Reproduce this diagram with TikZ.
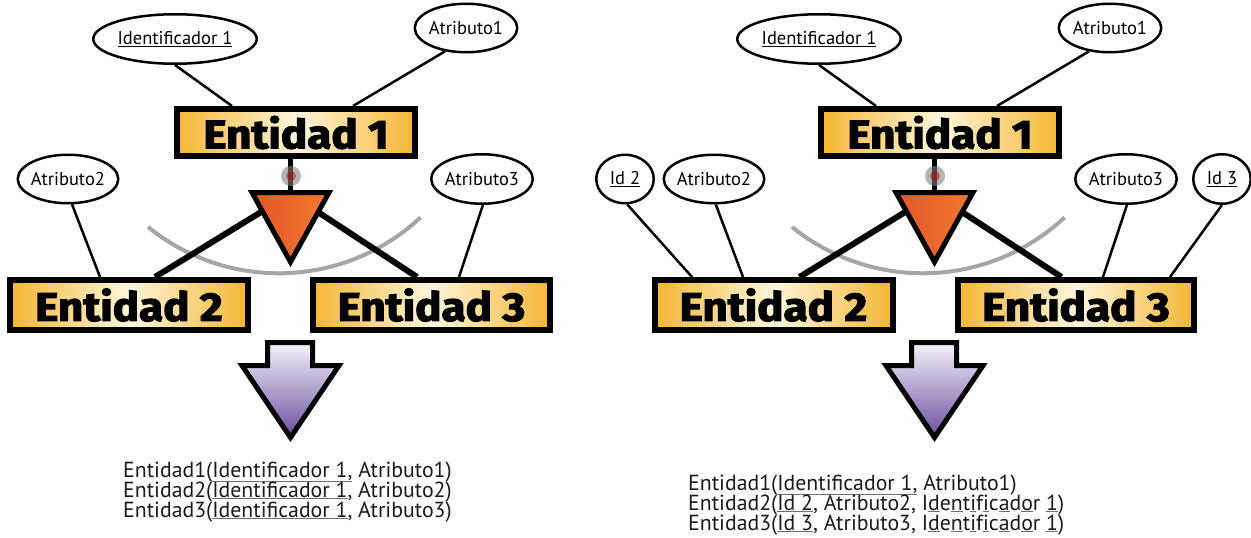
\documentclass[tikz,border=0pt]{standalone}
\usepackage{fontspec}
\setmainfont{PT Sans}
\newfontfamily\entfont[BoldFeatures={FakeBold=3,FakeStretch=1.1}]{Fira Sans}
\usetikzlibrary{shapes.geometric,calc}
\definecolor{gold}{HTML}{F4B632}
\definecolor{cream}{HTML}{FFF6DC}
\definecolor{orangeL}{HTML}{E2552A}
\definecolor{orangeR}{HTML}{F27A2C}
\definecolor{arrowtop}{HTML}{F6F2FB}
\definecolor{arrowbot}{HTML}{6A4E9E}
\definecolor{arcgray}{HTML}{A6A6A6}
\definecolor{txt}{HTML}{1A1A1A}
\definecolor{ulgray}{HTML}{707070}
\newcommand{\ulg}[1]{{\color{ulgray}\underline{\color{txt}#1}}}
\tikzset{
  entity/.style={draw=black, line width=6, rectangle, inner sep=0,
    minimum width=238, minimum height=47,
    left color=gold, right color=gold, middle color=cream,
    font=\entfont\bfseries\fontsize{40}{40}\selectfont},
  attr/.style={draw=black, line width=2.5, ellipse, inner sep=0, fill=white,
    font=\fontsize{18.5}{18.5}\selectfont},
  thinline/.style={draw=black, line width=2.5},
  thickline/.style={draw=black, line width=6},
  stemline/.style={draw=black, line width=5},
  arcline/.style={draw=arcgray, line width=4},
  tri/.style={draw=black, line width=5, line join=miter, left color=orangeL, right color=orangeR},
  bigarrow/.style={draw=black, line width=5, line join=miter, top color=arrowtop, bottom color=arrowbot},
  reltext/.style={anchor=base west, inner sep=0, text=txt, font=\fontsize{21.8}{21.8}\selectfont}
}
\begin{document}
\begin{tikzpicture}[x=1pt,y=-1pt]
\useasboundingbox (0,0) rectangle (1251,538);

% ================= LEFT =================
\draw[arcline] plot[domain=47:129, samples=50] ({278.8+207.9*cos(\x)},{65.4+207.9*sin(\x)});

\node[entity] (e1) at (296,132.5) {Entidad 1};
\node[entity, minimum height=50] (e2) at (129,305) {Entidad 2};
\node[entity, minimum height=50, minimum width=237] (e3) at (431.5,305) {Entidad 3};

\node[attr, minimum width=163.5, minimum height=49.5] (id1) at (175,39) {\makebox[0pt]{\underline{Identificador 1}}};
\node[attr, minimum width=102.5, minimum height=48.5] (a1) at (466,28) {\makebox[0pt]{Atributo1}};
\node[attr, minimum width=100.5, minimum height=48.5] (a2) at (68,179) {\makebox[0pt]{Atributo2}};
\node[attr, minimum width=101.5, minimum height=49.5] (a3) at (482,179) {\makebox[0pt]{Atributo3}};

\draw[thinline] (id1.south) -- ($(e1.north)+(-64,0)$);
\draw[thinline] (a1.228) -- ($(e1.north)+(57,0)$);
\draw[thinline] (a2.279) -- ($(e2.north)+(-29,0)$);
\draw[thinline] (a3.272) -- ($(e3.north)+(27.5,0)$);

\coordinate (t1) at (290.5,194);
\draw[thickline] (t1) -- ($(e2.north)+(26,0)$);
\draw[thickline] (t1) -- ($(e3.north)+(-14.5,0)$);
\draw[stemline] (e1.south -| t1) -- (t1);
\fill[gray, opacity=0.6] (291,176) circle (10);
\fill[red!75!black, opacity=0.45] (291,176) circle (5);
\path[tri] (252,192.5) -- (329,192.5) -- (290.5,262) -- cycle;

\path[bigarrow] (267.5,342.5) -- (312.5,342.5) -- (312.5,365.5) -- (339,365.5) -- (290.5,437.5) -- (242,365.5) -- (267.5,365.5) -- cycle;

\node[reltext] (l1) at (123,477) {Entidad1(\ulg{Identificador 1,} Atributo1)};
\node[reltext] (l2) at (123,497) {Entidad2(\ulg{Identificador 1}, Atributo2)};
\node[reltext] (l3) at (123,517) {Entidad3(\ulg{Identificador 1}, Atributo3)};

% ================= RIGHT =================
\draw[arcline] plot[domain=47:129, samples=50] ({922.8+207.9*cos(\x)},{65.4+207.9*sin(\x)});

\node[entity] (e1r) at (940,132.5) {Entidad 1};
\node[entity, minimum height=50] (e2r) at (773.5,305) {Entidad 2};
\node[entity, minimum height=50, minimum width=236] (e3r) at (1076,305) {Entidad 3};

\node[attr, minimum width=163.5, minimum height=49.5] (id1r) at (819,39) {\makebox[0pt]{\underline{Identificador 1}}};
\node[attr, minimum width=102.5, minimum height=48.5] (a1r) at (1110,28) {\makebox[0pt]{Atributo1}};
\node[attr, minimum width=100.5, minimum height=48.5] (a2r) at (714,179) {\makebox[0pt]{Atributo2}};
\node[attr, minimum width=101.5, minimum height=49.5] (a3r) at (1126,179) {\makebox[0pt]{Atributo3}};
\node[attr, minimum width=57.5, minimum height=48.5] (id2r) at (625,179) {\makebox[0pt]{\underline{Id 2}}};
\node[attr, minimum width=57.5, minimum height=49.5] (id3r) at (1222,179) {\makebox[0pt]{\underline{Id 3}}};

\draw[thinline] (id1r.south) -- ($(e1r.north)+(-64,0)$);
\draw[thinline] (a1r.228) -- ($(e1r.north)+(57,0)$);
\draw[thinline] (id2r.275) -- ($(e2r.north)+(-81.5,0)$);
\draw[thinline] (a2r.274) -- ($(e2r.north)+(-30.5,0)$);
\draw[thinline] (a3r.272) -- ($(e3r.north)+(27,0)$);
\draw[thinline] (id3r.270) -- ($(e3r.north)+(94,0)$);

\coordinate (t2) at (934.5,194);
\draw[thickline] (t2) -- ($(e2r.north)+(26,0)$);
\draw[thickline] (t2) -- ($(e3r.north)+(-14.5,0)$);
\draw[stemline] (e1r.south -| t2) -- (t2);
\fill[gray, opacity=0.6] (935,176) circle (10);
\fill[red!75!black, opacity=0.45] (935,176) circle (5);
\path[tri] (896,192.5) -- (973,192.5) -- (934.5,262) -- cycle;

\path[bigarrow] (911.5,342.5) -- (956.5,342.5) -- (956.5,365.5) -- (983,365.5) -- (934.5,437.5) -- (886,365.5) -- (911.5,365.5) -- cycle;

\node[reltext] (r1) at (688,490) {Entidad1(\ulg{Identificador 1,} Atributo1)};
\node[reltext] (r2) at (688,510) {Entidad2(\ulg{Id 2}, Atributo2, I\ulg{d}e\ulg{n}t\ulg{i}f\ulg{i}c\ulg{a}d\ulg{o}r \ulg{1})};
\node[reltext] (r3) at (688,530) {Entidad3(\ulg{Id 3}, Atributo3, I\ulg{d}e\ulg{n}t\ulg{i}f\ulg{i}c\ulg{a}d\ulg{o}r \ulg{1})};
\end{tikzpicture}
\end{document}
